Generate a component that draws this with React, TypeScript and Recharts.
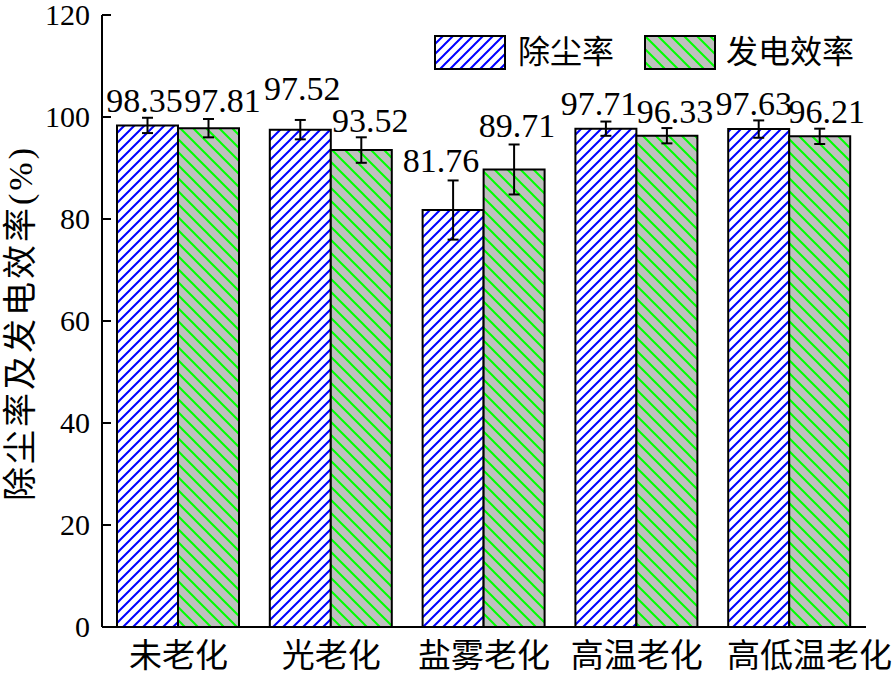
import React from "react";
import { BarChart, Bar, XAxis, YAxis, ErrorBar, LabelList } from "recharts";

const categories = ["未老化", "光老化", "盐雾老化", "高温老化", "高低温老化"];
const dustRemoval = [98.35, 97.52, 81.76, 97.71, 97.63];
const dustRemovalErr = [1.5, 1.9, 5.8, 1.4, 1.7];
const powerEff = [97.81, 93.52, 89.71, 96.33, 96.21];
const powerEffErr = [1.8, 2.5, 4.9, 1.5, 1.5];
const yTicks = [0, 20, 40, 60, 80, 100, 120];

const seriesNames = ["除尘率", "发电效率"];
const yTitle = "除尘率及发电效率(%)";

const data = categories.map((name, i) => ({
  name,
  dust: dustRemoval[i],
  dustErr: dustRemovalErr[i],
  power: powerEff[i],
  powerErr: powerEffErr[i],
}));

const W = 896;
const H = 675;
const PLOT_TOP = 15;
const PLOT_BOTTOM = 627;
const Y_MAX = 120;
const pxPerUnit = (PLOT_BOTTOM - PLOT_TOP) / Y_MAX;

const FONT = "'Liberation Serif', 'Times New Roman', 'Noto Sans CJK SC', serif";

// hand-placed value labels: gap above the error cap and sideways nudge (px)
const dustLabelGap = [6, 20, 8, 7, 5];
const powerLabelGap = [7, 5, 7, 5, 6];
const dustLabelDx = [-3, 2, -12, -7, -5];
const powerLabelDx = [14, 9, 3, 8, 7];

const makeLabel = (errs: number[], gaps: number[], dxs: number[]) => (props: any) => {
  const { x, y, width, value, index } = props;
  const ty = y - errs[index] * pxPerUnit - gaps[index];
  return (
    <text
      x={x + width / 2 + dxs[index]}
      y={ty}
      textAnchor="middle"
      fontSize={34}
      fontFamily={FONT}
      fill="#000"
    >
      {value.toFixed(2)}
    </text>
  );
};

const YTick = ({ x, y, payload }: any) => {
  const axisX = x + 12;
  return (
    <g>
      <line x1={axisX} y1={y} x2={axisX + 9} y2={y} stroke="#000" strokeWidth={2} />
      <text x={x} y={y} dy={10} textAnchor="end" fontSize={30} fontFamily={FONT} fill="#000">
        {payload.value}
      </text>
    </g>
  );
};

const XTick = ({ x, y, payload, index }: any) => (
  <text
    x={x}
    y={y}
    dy={40}
    dx={index === categories.length - 1 ? 20 : 0}
    textAnchor="middle"
    fontSize={33}
    fontFamily={FONT}
    fill="#000"
  >
    {payload.value}
  </text>
);

const YTitle = ({ viewBox }: any) => {
  const cx = 20;
  const cy = viewBox.y + viewBox.height / 2 + 2;
  return (
    <text
      x={cx}
      y={cy}
      transform={`rotate(-90, ${cx}, ${cy})`}
      textAnchor="middle"
      dominantBaseline="central"
      fontSize={34}
      letterSpacing={3}
      fontFamily={FONT}
      fill="#000"
    >
      {yTitle}
    </text>
  );
};

const HatchDefs = ({ prefix }: { prefix: string }) => (
  <defs>
    <pattern id={`${prefix}-blue`} width={10} height={10} patternUnits="userSpaceOnUse">
      <rect width={10} height={10} fill="#fff" />
      <path
        d="M0,10 L10,0 M-2.5,2.5 L2.5,-2.5 M7.5,12.5 L12.5,7.5"
        stroke="#0000ff"
        strokeWidth={2}
      />
    </pattern>
    <pattern id={`${prefix}-green`} width={13} height={13} patternUnits="userSpaceOnUse">
      <rect width={13} height={13} fill="#c0c0c0" />
      <path
        d="M0,0 L13,13 M-3.25,9.75 L3.25,16.25 M9.75,-3.25 L16.25,3.25"
        stroke="#00ff00"
        strokeWidth={2}
      />
    </pattern>
  </defs>
);

const LegendBox = () => (
  <div
    style={{
      position: "absolute",
      left: 434,
      top: 35,
      display: "flex",
      alignItems: "center",
      fontFamily: FONT,
      fontSize: 32,
    }}
  >
    <svg width={72} height={35} style={{ display: "block" }}>
      <HatchDefs prefix="lg" />
      <rect x={1} y={1} width={70} height={33} fill="url(#lg-blue)" stroke="#000" strokeWidth={2} />
    </svg>
    <span style={{ marginLeft: 12, lineHeight: "35px" }}>{seriesNames[0]}</span>
    <svg width={72} height={35} style={{ display: "block", marginLeft: 30 }}>
      <HatchDefs prefix="lg2" />
      <rect x={1} y={1} width={70} height={33} fill="url(#lg2-green)" stroke="#000" strokeWidth={2} />
    </svg>
    <span style={{ marginLeft: 10, lineHeight: "35px" }}>{seriesNames[1]}</span>
  </div>
);

export default function App() {
  return (
    <div style={{ position: "absolute", left: 0, top: 0, width: W, height: H, background: "#fff" }}>
      <BarChart
        width={W}
        height={H}
        data={data}
        margin={{ top: PLOT_TOP, right: 30, left: 0, bottom: 0 }}
        barGap={0}
        barSize={61}
      >
        <HatchDefs prefix="bar" />
        <XAxis
          dataKey="name"
          height={H - PLOT_BOTTOM}
          tick={<XTick />}
          tickLine={false}
          tickSize={0}
          tickMargin={0}
          interval={0}
          axisLine={{ stroke: "#000", strokeWidth: 2 }}
        />
        <XAxis
          xAxisId="top"
          dataKey="name"
          orientation="top"
          height={0}
          tick={false}
          tickLine={false}
          axisLine={{ stroke: "#000", strokeWidth: 2 }}
        />
        <YAxis
          width={102}
          domain={[0, Y_MAX]}
          ticks={yTicks}
          tick={<YTick />}
          tickLine={false}
          tickSize={0}
          tickMargin={12}
          axisLine={{ stroke: "#000", strokeWidth: 2 }}
          label={{ content: <YTitle /> }}
        />
        <YAxis
          yAxisId="right"
          orientation="right"
          width={0}
          domain={[0, Y_MAX]}
          tick={false}
          tickLine={false}
          axisLine={{ stroke: "#000", strokeWidth: 2 }}
        />
        <Bar
          dataKey="dust"
          name={seriesNames[0]}
          fill="url(#bar-blue)"
          stroke="#000"
          strokeWidth={2}
          isAnimationActive={false}
        >
          <ErrorBar dataKey="dustErr" width={5.5} stroke="#000" strokeWidth={2} direction="y" />
          <LabelList
            dataKey="dust"
            content={makeLabel(dustRemovalErr, dustLabelGap, dustLabelDx)}
          />
        </Bar>
        <Bar
          dataKey="power"
          name={seriesNames[1]}
          fill="url(#bar-green)"
          stroke="#000"
          strokeWidth={2}
          isAnimationActive={false}
        >
          <ErrorBar dataKey="powerErr" width={5.5} stroke="#000" strokeWidth={2} direction="y" />
          <LabelList
            dataKey="power"
            content={makeLabel(powerEffErr, powerLabelGap, powerLabelDx)}
          />
        </Bar>
      </BarChart>
      <LegendBox />
    </div>
  );
}
